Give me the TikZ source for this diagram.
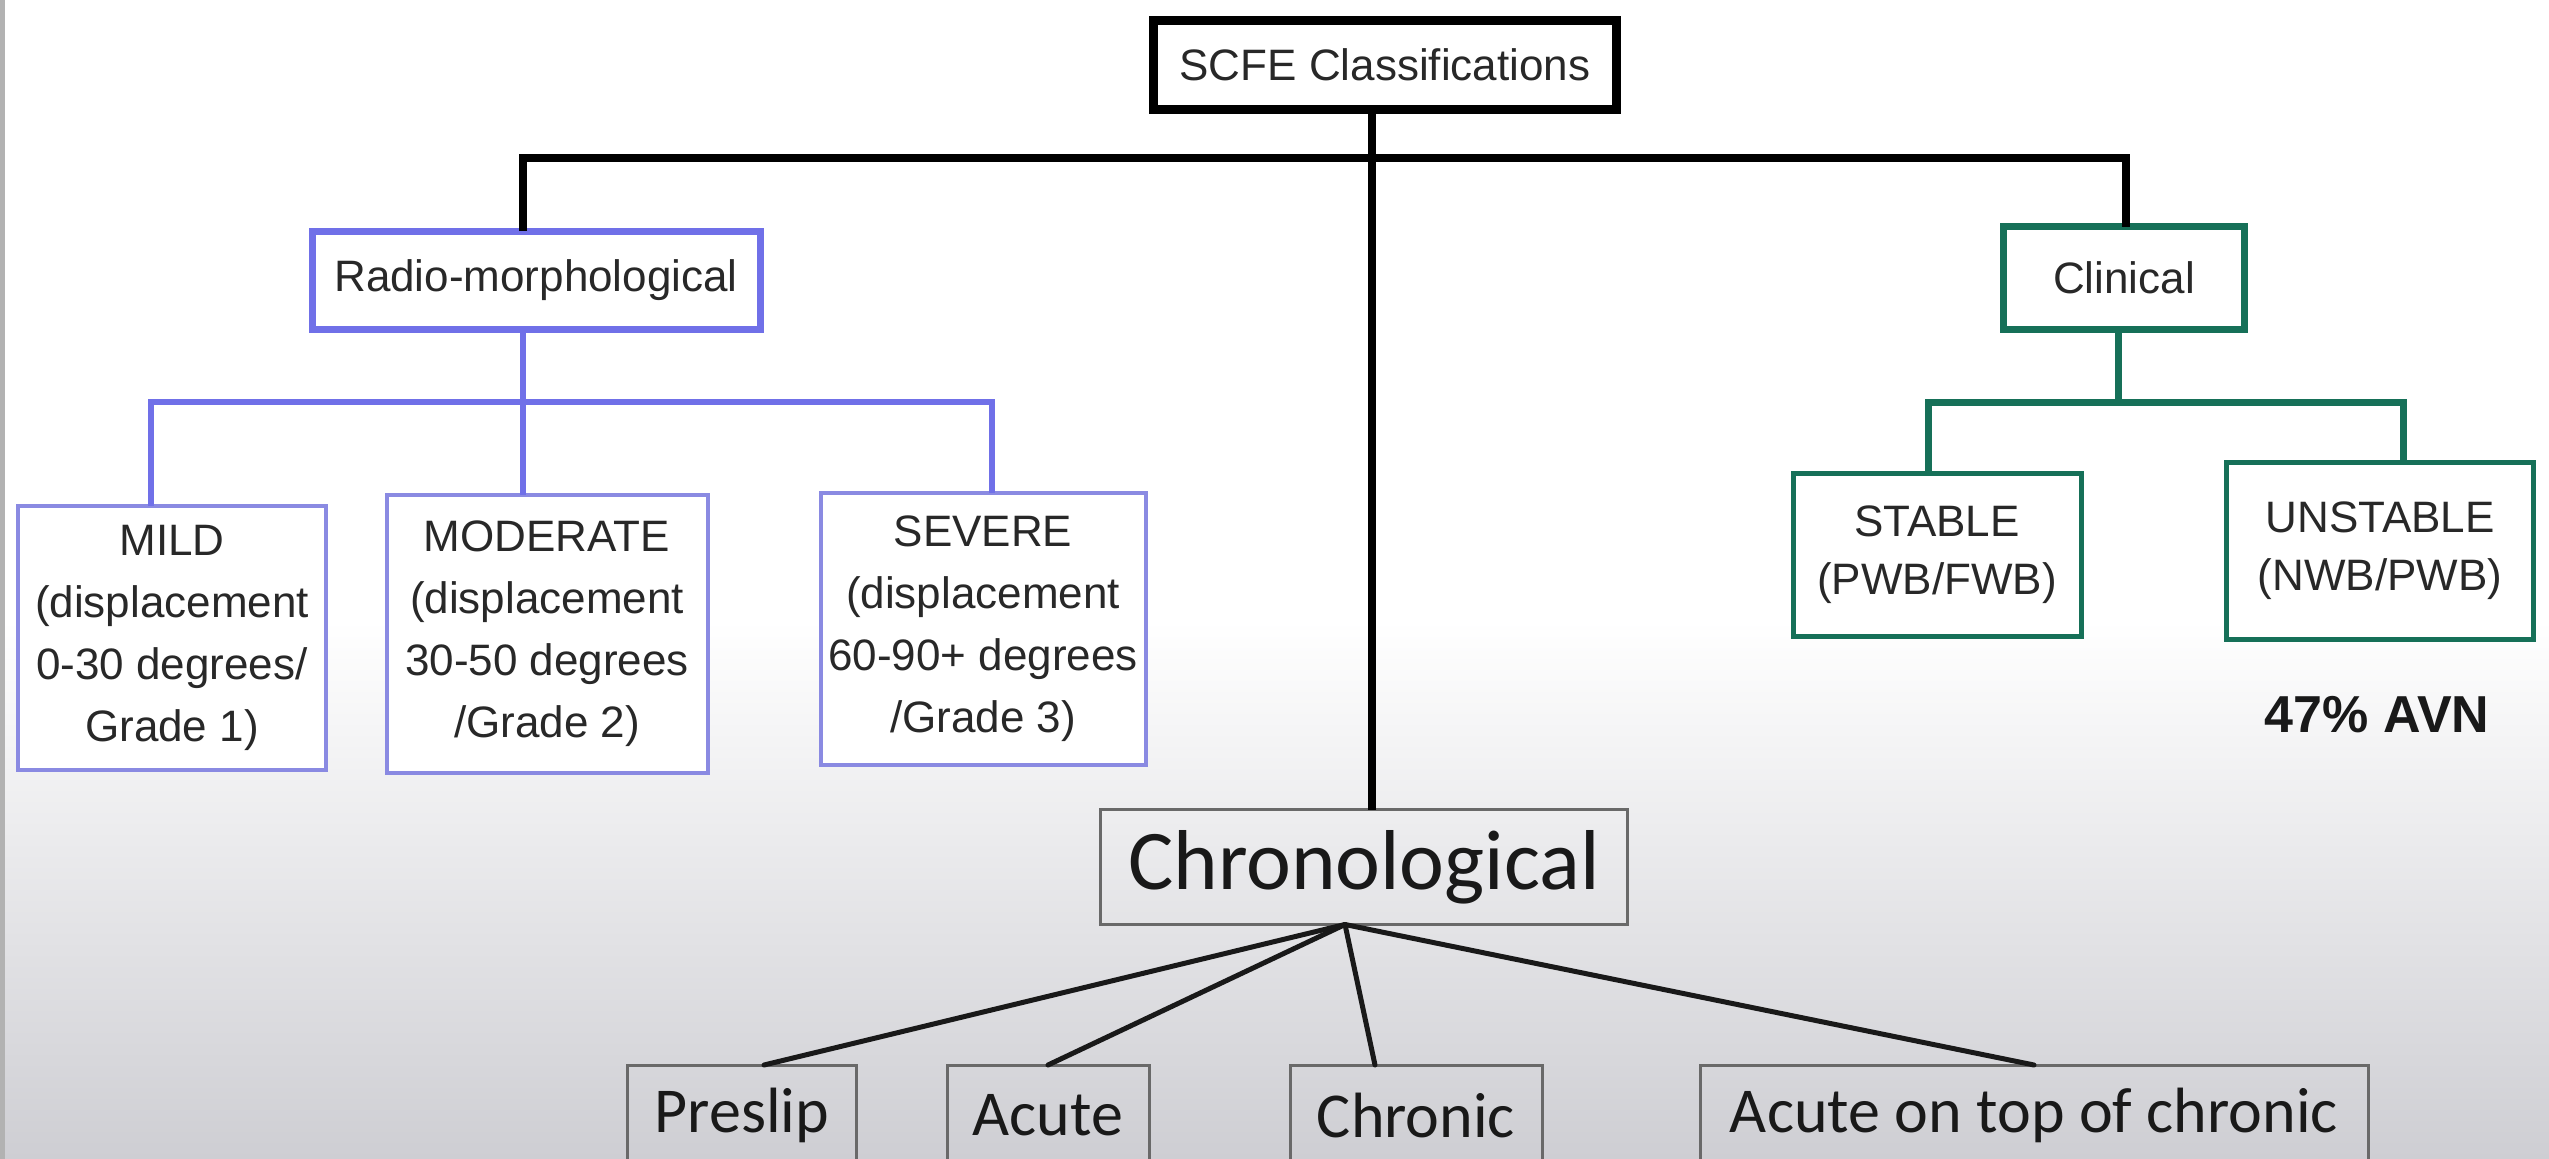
\documentclass[tikz,border=0pt]{standalone}
\usepackage{fontspec}
\setmainfont{Liberation Sans}
\newfontfamily\calfont{Carlito}
\usetikzlibrary{calc}
\definecolor{blu}{RGB}{112,112,232}
\definecolor{blulite}{RGB}{138,138,226}
\definecolor{grn}{RGB}{22,112,88}
\definecolor{txt}{RGB}{40,40,40}
\definecolor{txtdark}{RGB}{25,25,25}
\definecolor{bxgray}{RGB}{105,105,105}
\definecolor{bgbot}{RGB}{206,206,211}
\definecolor{edgegray}{RGB}{178,178,178}
\begin{document}
\begin{tikzpicture}[x=1pt,y=-1pt,
  every node/.style={inner sep=0pt, outer sep=0pt, align=center, text=txt},
  ftop/.style={font=\fontsize{44}{62}\selectfont},
  fcl/.style={font=\fontsize{44}{58}\selectfont},
  scfebox/.style={draw=black, line width=9pt, fill=white, ftop},
  radiobox/.style={draw=blu, line width=7pt, fill=white, ftop},
  gradebox/.style={draw=blulite, line width=4pt, fill=white, ftop},
  clinbox/.style={draw=grn, line width=7pt, fill=white, ftop},
  stabbox/.style={draw=grn, line width=5pt, fill=white, fcl},
  chronbox/.style={draw=bxgray, line width=3.5pt, text=txtdark, font=\calfont\fontsize{85}{100}\selectfont},
  kidbox/.style={draw=bxgray, line width=3pt, text=txtdark, minimum height=100pt, font=\calfont\fontsize{64}{76}\selectfont},
  blkline/.style={draw=black, line width=8pt, line join=miter},
  bluline/.style={draw=blu, line width=6pt, line join=miter},
  grnline/.style={draw=grn, line width=7pt, line join=miter},
  chrline/.style={draw=black!90, line width=5pt, line cap=round}
]
\useasboundingbox (0,0) rectangle (2549,1159);
% background
\fill[white] (0,0) rectangle (2549,1159);
\shade[top color=white, bottom color=bgbot] (0,620) rectangle (2549,1159);
\fill[edgegray] (0,0) rectangle (5,1159);

% nodes
\node[scfebox, minimum width=463pt, minimum height=89pt] (scfe) at (1385,65) {SCFE Classifications};
\node[radiobox, minimum width=448pt, minimum height=98pt] (radio) at (536,280) {Radio-morphological};
\node[clinbox, minimum width=241pt, minimum height=103pt] (clin) at (2124,278) {Clinical};

\node[gradebox, minimum width=308pt, minimum height=264pt] (mild) at (172,638)
  {MILD\\(displacement\\0-30 degrees/\\Grade 1)};
\node[gradebox, minimum width=321pt, minimum height=278pt] (moder) at (547,634)
  {MODERATE\\(displacement\\30-50 degrees\\/Grade 2)};
\node[gradebox, minimum width=325pt, minimum height=272pt] (sev) at (983,629)
  {SEVERE\\(displacement\\60-90+ degrees\\/Grade 3)};

\node[stabbox, minimum width=288pt, minimum height=163pt] (stab) at (1937,555)
  {STABLE\\(PWB/FWB)};
\node[stabbox, minimum width=307pt, minimum height=177pt] (unst) at (2380,551)
  {UNSTABLE\\(NWB/PWB)};
\node[text=txtdark, font=\bfseries\fontsize{52}{60}\selectfont] (avn) at (2377,715) {47\% AVN};

\node[chronbox, minimum width=527pt, minimum height=115pt] (chron) at (1364,867) {Chronological};

\node[kidbox, minimum width=229pt] (pre) at (742,1115) {Preslip};
\node[kidbox, minimum width=202pt] (acu) at (1048,1115) {Acute};
\node[kidbox, minimum width=252pt] (chr) at (1416,1115) {Chronic};
\node[kidbox, minimum width=668pt] (aot) at (2034,1115) {Acute on top of chronic};

% black top-level connectors
\coordinate (tbL) at (523,158);
\coordinate (tbR) at (2126,158);
\draw[blkline] ([xshift=-13pt]scfe.south) -- ([xshift=8pt]chron.north);
\draw[blkline] (tbL |- radio.north) -- (tbL) -- (tbR) -- (tbR |- clin.north);

% blue connectors
\coordinate (bbL) at (151,402);
\coordinate (bbM) at (523,402);
\coordinate (bbR) at (992,402);
\draw[bluline] (bbM |- radio.south) -- (bbM |- moder.north);
\draw[bluline] (bbL |- mild.north) -- (bbL) -- (bbR) -- (bbR |- sev.north);

% green connectors
\coordinate (gbL) at (1928,402);
\coordinate (gbM) at (2118,402);
\coordinate (gbR) at (2403,402);
\draw[grnline] (gbM |- clin.south) -- (gbM);
\draw[grnline] (gbL |- stab.north) -- (gbL) -- (gbR) -- (gbR |- unst.north);

% chronological connectors
\coordinate (cv) at ([xshift=-19pt]chron.south);
\draw[chrline] (cv) -- ([xshift=22pt]pre.north);
\draw[chrline] (cv) -- (acu.north);
\draw[chrline] (cv) -- ([xshift=-41pt]chr.north);
\draw[chrline] (cv) -- (aot.north);
\end{tikzpicture}
\end{document}
